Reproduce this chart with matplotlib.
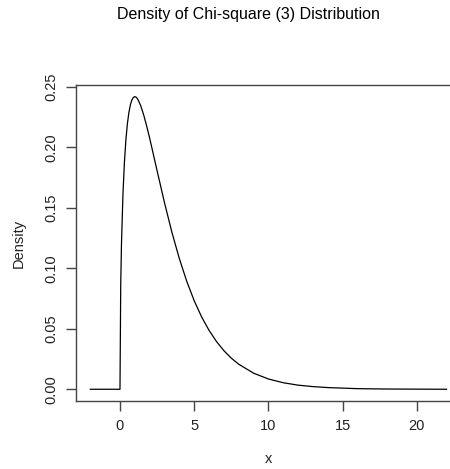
import matplotlib.pyplot as plt

plt.rcParams['font.family'] = ['Liberation Sans', 'DejaVu Sans']

# values
x = [-2.0, 0.0, 0.0, 0.05, 0.1, 0.2, 0.3, 0.4, 0.5, 0.6, 0.7, 0.8, 0.9, 1.0,
     1.1, 1.2, 1.4, 1.6, 1.8, 2.0, 2.5, 3.0, 3.5, 4.0, 4.5, 5.0, 5.5, 6.0,
     6.5, 7.0, 7.5, 8.0, 9.0, 10.0, 11.0, 12.0, 13.0, 14.0, 16.0, 18.0,
     20.0, 22.0]
density = [0.0, 0.0, 0.0, 0.0870, 0.1200, 0.1614, 0.1881, 0.2066, 0.2197,
           0.2289, 0.2352, 0.2392, 0.2413, 0.2420, 0.2414, 0.2398, 0.2344,
           0.2267, 0.2176, 0.2076, 0.1807, 0.1542, 0.1297, 0.1080, 0.0892,
           0.0732, 0.0598, 0.0487, 0.0395, 0.0319, 0.0257, 0.0207, 0.0133,
           0.0085, 0.0054, 0.0034, 0.0022, 0.0014, 0.0005, 0.0002, 0.0001,
           0.0]

xticks = [0, 5, 10, 15, 20]
yticks = [0.00, 0.05, 0.10, 0.15, 0.20, 0.25]
ylabels = ['0.00', '0.05', '0.10', '0.15', '0.20', '0.25']

fig = plt.figure(figsize=(4.5, 4.69), dpi=100)
# the right side of the plot box is cut off in the reference
ax = fig.add_axes([0.169, 0.145, 0.855, 0.674])

ax.plot(x, density, color='black', linewidth=0.9)

ax.set_xlim(-2.96, 22.96)
ax.set_ylim(-0.0097, 0.2517)

for side in ['left', 'top', 'bottom']:
    ax.spines[side].set_color('#444444')
    ax.spines[side].set_linewidth(1.0)
ax.spines['right'].set_visible(False)

ax.set_xticks(xticks)
ax.set_xticklabels([str(t) for t in xticks])
ax.set_yticks(yticks)
ax.set_yticklabels(ylabels, rotation=90, va='center')
ax.tick_params(axis='both', direction='out', length=7, width=1.0,
               color='#444444', labelsize=10.5, labelcolor='#222222', pad=6)

ax.set_xlabel('x', fontsize=10.5, color='#222222', labelpad=14)
ax.set_ylabel('Density', fontsize=10.5, color='#222222', labelpad=13)
fig.suptitle('Density of Chi-square (3) Distribution', fontsize=11.5,
             y=0.985, x=0.551)

fig.savefig('out.png', dpi=100)
